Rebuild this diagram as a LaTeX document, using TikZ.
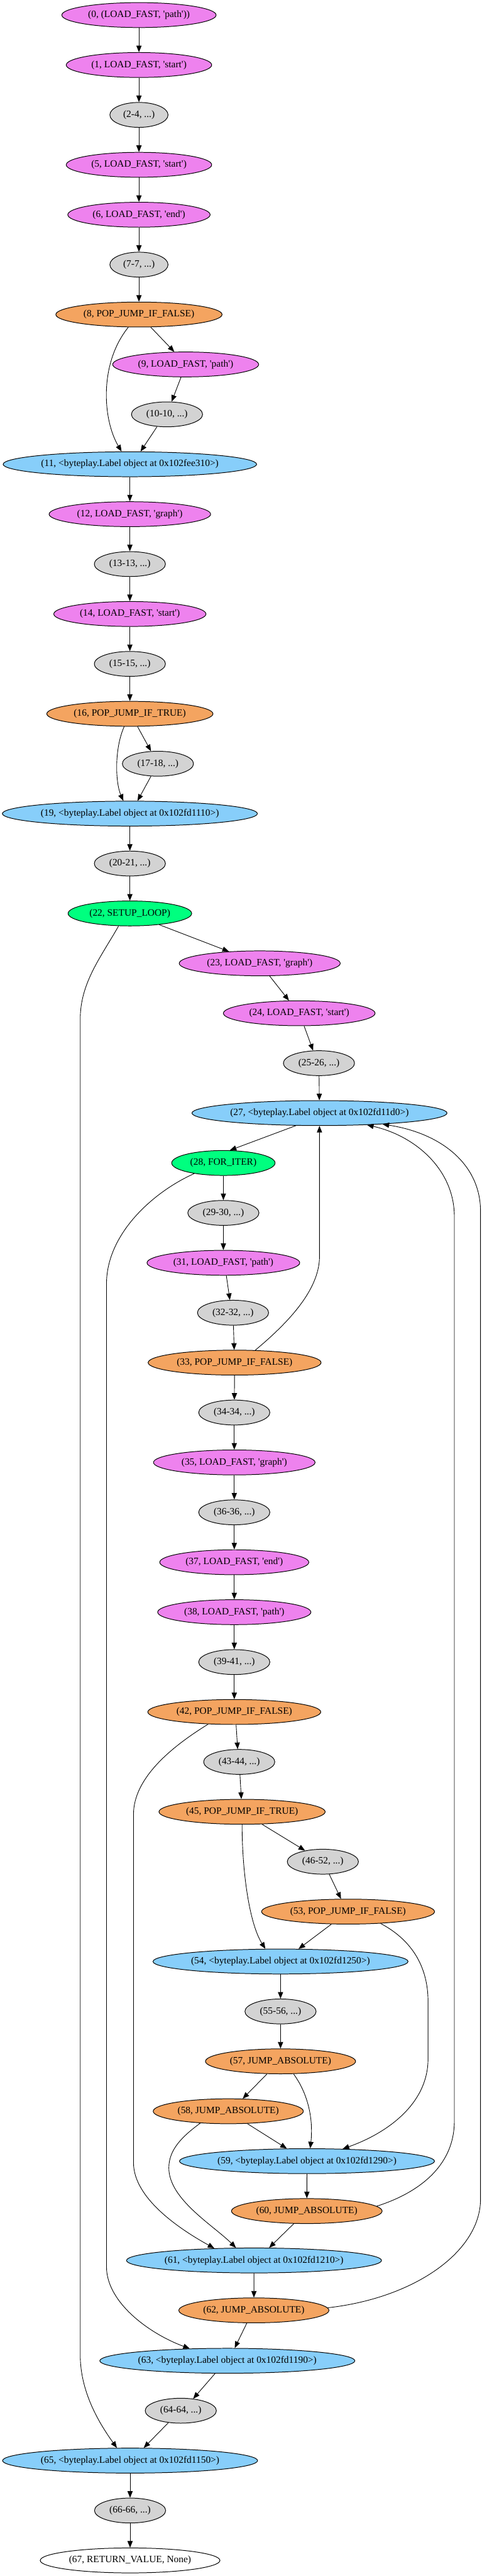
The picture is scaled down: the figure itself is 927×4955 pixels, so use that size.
\documentclass[tikz,border=0pt]{standalone}
\usepackage{fontspec}
\newfontfamily\gvfont{Liberation Serif}
\usetikzlibrary{shapes.geometric,arrows.meta}
\definecolor{cViolet}{HTML}{EE82EE}
\definecolor{cSandy}{HTML}{F4A460}
\definecolor{cSky}{HTML}{87CEFA}
\definecolor{cGray}{HTML}{D3D3D3}
\definecolor{cGreen}{HTML}{00FF7F}
\newcommand{\gvl}[1]{\makebox[0pt][c]{#1}}
\begin{document}
\begin{tikzpicture}[x=0.75pt,y=-0.75pt,
  gv/.style={ellipse,draw,line width=0.9pt,minimum height=36pt,inner sep=0pt,
    font=\gvfont\fontsize{14}{16}\selectfont},
  opv/.style={gv,fill=cViolet},
  opo/.style={gv,fill=cSandy},
  opb/.style={gv,fill=cSky},
  opr/.style={gv,fill=cGray},
  opg/.style={gv,fill=cGreen},
  opw/.style={gv,fill=white},
  arr/.style={draw,line width=0.8pt,-{Triangle[length=9.5pt,width=7.5pt]}}]
\useasboundingbox (0,0) rectangle (927,4955);
% nodes
\node[opv,minimum width=222.75pt] (n0) at (267.5,29) {\gvl{(0, (LOAD\_FAST, 'path'))}};
\node[opv,minimum width=210pt] (n1) at (267.5,125) {\gvl{(1, LOAD\_FAST, 'start')}};
\node[opr,minimum width=84pt] (n2) at (267.5,221) {\gvl{(2-4, ...)}};
\node[opv,minimum width=210pt] (n5) at (267.5,317) {\gvl{(5, LOAD\_FAST, 'start')}};
\node[opv,minimum width=205.5pt] (n6) at (267.5,413) {\gvl{(6, LOAD\_FAST, 'end')}};
\node[opr,minimum width=84pt] (n7) at (267.5,509) {\gvl{(7-7, ...)}};
\node[opo,minimum width=240pt] (n8) at (267.5,605) {\gvl{(8, POP\_JUMP\_IF\_FALSE)}};
\node[opv,minimum width=210.75pt] (n9) at (357.4,701) {\gvl{(9, LOAD\_FAST, 'path')}};
\node[opr,minimum width=102.75pt] (n10) at (321.5,797) {\gvl{(10-10, ...)}};
\node[opb,minimum width=366pt] (n11) at (250,893) {\gvl{(11, <byteplay.Label object at 0x102fee310>)}};
\node[opv,minimum width=233.25pt] (n12) at (250,989) {\gvl{(12, LOAD\_FAST, 'graph')}};
\node[opr,minimum width=102.75pt] (n13) at (250,1085) {\gvl{(13-13, ...)}};
\node[opv,minimum width=219.75pt] (n14) at (250,1181) {\gvl{(14, LOAD\_FAST, 'start')}};
\node[opr,minimum width=102.75pt] (n15) at (250,1277) {\gvl{(15-15, ...)}};
\node[opo,minimum width=240pt] (n16) at (250,1373) {\gvl{(16, POP\_JUMP\_IF\_TRUE)}};
\node[opr,minimum width=102.75pt] (n17) at (304,1469) {\gvl{(17-18, ...)}};
\node[opb,minimum width=368.25pt] (n19) at (250,1565) {\gvl{(19, <byteplay.Label object at 0x102fd1110>)}};
\node[opr,minimum width=102.75pt] (n20) at (250,1661) {\gvl{(20-21, ...)}};
\node[opg,minimum width=178.5pt] (n22) at (250,1757) {\gvl{(22, SETUP\_LOOP)}};
\node[opv,minimum width=232.5pt] (n23) at (500,1853) {\gvl{(23, LOAD\_FAST, 'graph')}};
\node[opv,minimum width=219pt] (n24) at (576,1949) {\gvl{(24, LOAD\_FAST, 'start')}};
\node[opr,minimum width=102.75pt] (n25) at (614,2045) {\gvl{(25-26, ...)}};
\node[opb,minimum width=368.25pt] (n27) at (615,2141) {\gvl{(27, <byteplay.Label object at 0x102fd11d0>)}};
\node[opg,minimum width=149.25pt] (n28) at (430,2237) {\gvl{(28, FOR\_ITER)}};
\node[opr,minimum width=102.75pt] (n29) at (430,2333) {\gvl{(29-30, ...)}};
\node[opv,minimum width=220.5pt] (n31) at (430,2429) {\gvl{(31, LOAD\_FAST, 'path')}};
\node[opr,minimum width=102.75pt] (n32) at (448.6,2525) {\gvl{(32-32, ...)}};
\node[opo,minimum width=249.75pt] (n33) at (451.6,2621) {\gvl{(33, POP\_JUMP\_IF\_FALSE)}};
\node[opr,minimum width=102.75pt] (n34) at (451,2717) {\gvl{(34-34, ...)}};
\node[opv,minimum width=233.25pt] (n35) at (451,2813) {\gvl{(35, LOAD\_FAST, 'graph')}};
\node[opr,minimum width=102.75pt] (n36) at (451,2909) {\gvl{(36-36, ...)}};
\node[opv,minimum width=215.25pt] (n37) at (451,3005) {\gvl{(37, LOAD\_FAST, 'end')}};
\node[opv,minimum width=221.25pt] (n38) at (451,3101) {\gvl{(38, LOAD\_FAST, 'path')}};
\node[opr,minimum width=102.75pt] (n39) at (451,3197) {\gvl{(39-41, ...)}};
\node[opo,minimum width=249.75pt] (n42) at (451,3293) {\gvl{(42, POP\_JUMP\_IF\_FALSE)}};
\node[opr,minimum width=102.75pt] (n43) at (460.5,3389) {\gvl{(43-44, ...)}};
\node[opo,minimum width=240pt] (n45) at (466,3485) {\gvl{(45, POP\_JUMP\_IF\_TRUE)}};
\node[opr,minimum width=102.75pt] (n46) at (621.5,3581) {\gvl{(46-52, ...)}};
\node[opo,minimum width=249.75pt] (n53) at (670,3677) {\gvl{(53, POP\_JUMP\_IF\_FALSE)}};
\node[opb,minimum width=368.25pt] (n54) at (540,3773) {\gvl{(54, <byteplay.Label object at 0x102fd1250>)}};
\node[opr,minimum width=102.75pt] (n55) at (540,3869) {\gvl{(55-56, ...)}};
\node[opo,minimum width=216.75pt] (n57) at (540,3965) {\gvl{(57, JUMP\_ABSOLUTE)}};
\node[opo,minimum width=216.75pt] (n58) at (439.4,4061) {\gvl{(58, JUMP\_ABSOLUTE)}};
\node[opb,minimum width=368.25pt] (n59) at (591,4157) {\gvl{(59, <byteplay.Label object at 0x102fd1290>)}};
\node[opo,minimum width=217.5pt] (n60) at (590.6,4253) {\gvl{(60, JUMP\_ABSOLUTE)}};
\node[opb,minimum width=368.25pt] (n61) at (489,4348) {\gvl{(61, <byteplay.Label object at 0x102fd1210>)}};
\node[opo,minimum width=216.75pt] (n62) at (488.7,4444) {\gvl{(62, JUMP\_ABSOLUTE)}};
\node[opb,minimum width=368.25pt] (n63) at (437.6,4541) {\gvl{(63, <byteplay.Label object at 0x102fd1190>)}};
\node[opr,minimum width=102.75pt] (n64) at (348,4637) {\gvl{(64-64, ...)}};
\node[opb,minimum width=368.25pt] (n65) at (250.4,4733) {\gvl{(65, <byteplay.Label object at 0x102fd1150>)}};
\node[opr,minimum width=102.75pt] (n66) at (250.4,4829) {\gvl{(66-66, ...)}};
\node[opw,minimum width=259.5pt] (n67) at (250.4,4925) {\gvl{(67, RETURN\_VALUE, None)}};
% edges
\draw[arr] (n0) -- (n1);
\draw[arr] (n1) -- (n2);
\draw[arr] (n2) -- (n5);
\draw[arr] (n5) -- (n6);
\draw[arr] (n6) -- (n7);
\draw[arr] (n7) -- (n8);
\draw[arr] (n8.-47) -- (n9.132);
\draw[arr] (n8.-130) .. controls (190,700) and (198,808) .. (n11.123);
\draw[arr] (n9.-110) -- (n10.70);
\draw[arr] (n10.-129) -- (n11.50);
\draw[arr] (n11) -- (n12);
\draw[arr] (n12) -- (n13);
\draw[arr] (n13) -- (n14);
\draw[arr] (n14) -- (n15);
\draw[arr] (n15) -- (n16);
\draw[arr] (n16.-59) -- (n17.119);
\draw[arr] (n16.-114) .. controls (220,1440) and (222,1505) .. (n19.117);
\draw[arr] (n17.-119) -- (n19.59);
\draw[arr] (n19) -- (n20);
\draw[arr] (n20) -- (n22);
\draw[arr] (n22.-21) -- (n23.159);
\draw[arr] (n22.-132) .. controls (195,1840) and (154.5,1890) .. (154.5,1960) -- (154.5,4530) .. controls (154.5,4600) and (190,4660) .. (n65.136);
\draw[arr] (n23.-52) -- (n24.129);
\draw[arr] (n24.-69) -- (n25.115);
\draw[arr] (n25) -- (n27);
\draw[arr] (n27.-152) -- (n28.63);
\draw[arr] (n28) -- (n29);
\draw[arr] (n28.-160) .. controls (300,2290) and (205,2370) .. (205,2470) -- (205,4360) .. controls (205,4430) and (290,4490) .. (n63.162);
\draw[arr] (n29) -- (n31);
\draw[arr] (n31.-77) -- (n32.104);
\draw[arr] (n32) -- (n33);
\draw[arr] (n33) -- (n34);
\draw[arr] (n33.31) .. controls (560,2540) and (613,2480) .. (615,2420) -- (n27);
\draw[arr] (n34) -- (n35);
\draw[arr] (n35) -- (n36);
\draw[arr] (n36) -- (n37);
\draw[arr] (n37) -- (n38);
\draw[arr] (n38) -- (n39);
\draw[arr] (n39) -- (n42);
\draw[arr] (n42.-82) -- (n43.97);
\draw[arr] (n42.-155) .. controls (330,3360) and (257,3420) .. (257,3490) -- (257,4160) .. controls (257,4230) and (350,4290) .. (n61.163);
\draw[arr] (n43) -- (n45);
\draw[arr] (n45.-32) -- (n46.148);
\draw[arr] (n45.-90) .. controls (466,3600) and (480,3700) .. (n54.140);
\draw[arr] (n46.-63) -- (n53.119);
\draw[arr] (n53.-143) -- (n54.35);
\draw[arr] (n53.-20) .. controls (790,3730) and (824,3780) .. (824,3850) -- (824,3960) .. controls (824,4050) and (740,4105) .. (n59.19);
\draw[arr] (n54) -- (n55);
\draw[arr] (n55) -- (n57);
\draw[arr] (n57.-137) -- (n58.41);
\draw[arr] (n57.-44) .. controls (595,4030) and (603,4080) .. (n59.76);
\draw[arr] (n58.-33) -- (n59.148);
\draw[arr] (n58.-157) .. controls (350,4110) and (325,4135) .. (325,4170) .. controls (325,4230) and (410,4280) .. (n61.145);
\draw[arr] (n59) -- (n60);
\draw[arr] (n60.-136) -- (n61.40);
\draw[arr] (n60.4) .. controls (800,4220) and (874.6,4170) .. (874.6,4080) -- (874.6,2340) .. controls (874.6,2250) and (800,2185) .. (n27.-14);
\draw[arr] (n61) -- (n62);
\draw[arr] (n62.2) .. controls (800,4420) and (925,4330) .. (925,4230) -- (925,2330) .. controls (925,2240) and (850,2180) .. (n27.-10);
\draw[arr] (n62.-119) -- (n63.60);
\draw[arr] (n63.-134) -- (n64.44);
\draw[arr] (n64.-136) -- (n65.43);
\draw[arr] (n65) -- (n66);
\draw[arr] (n66) -- (n67);
\end{tikzpicture}
\end{document}
